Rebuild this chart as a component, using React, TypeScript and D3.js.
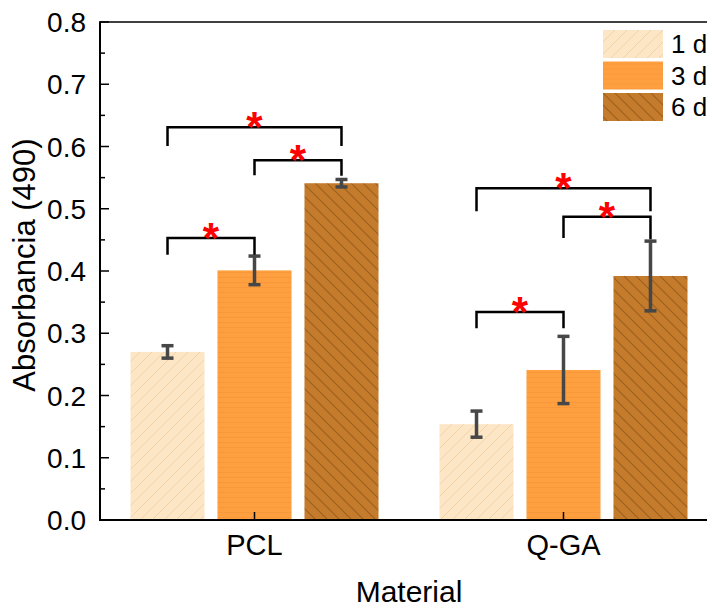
import React from 'react';
import * as d3 from 'd3';

const categories = ['PCL', 'Q-GA'];
const seriesNames = ['1 d', '3 d', '6 d'];
const pclMeans = [0.270, 0.401, 0.541];
const pclErrors = [0.010, 0.023, 0.006];
const qgaMeans = [0.154, 0.241, 0.392];
const qgaErrors = [0.021, 0.054, 0.056];
const yTicks = [0, 0.1, 0.2, 0.3, 0.4, 0.5, 0.6, 0.7, 0.8];
const yMinorTicks = [0.05, 0.15, 0.25, 0.35, 0.45, 0.55, 0.65, 0.75];
// significance brackets: category, from series, to series, top value, left leg end, right leg end
const bracketCats = ['PCL', 'PCL', 'PCL', 'Q-GA', 'Q-GA', 'Q-GA'];
const bracketFrom = [0, 1, 0, 0, 1, 0];
const bracketTo = [2, 2, 1, 2, 2, 1];
const bracketTop = [0.631, 0.578, 0.453, 0.533, 0.487, 0.334];
const bracketLegA = [0.601, 0.554, 0.426, 0.496, 0.453, 0.308];
const bracketLegB = [0.601, 0.553, 0.426, 0.496, 0.451, 0.308];

const W = 707;
const H = 607;
const M = { left: 100, top: 22, bottom: 520, right: 718 };
const FONT = 'Arimo, "Liberation Sans", Arial, Helvetica, sans-serif';

export default function App() {
  const x0 = d3.scaleBand<string>().domain(categories).range([M.left, M.right]).padding(0);
  const x1 = d3.scaleBand<string>().domain(seriesNames).range([-124, 124]).paddingInner(0.149).paddingOuter(0);
  const y = d3.scaleLinear().domain([0, 0.8]).range([M.bottom, M.top]);

  const rows = categories.map((c, ci) => ({
    cat: c,
    means: ci === 0 ? pclMeans : qgaMeans,
    errs: ci === 0 ? pclErrors : qgaErrors,
  }));

  const fills = ['url(#p1)', 'url(#p2)', 'url(#p3)'];
  const cx = (cat: string) => (x0(cat) as number) + x0.bandwidth() / 2;
  const barCenter = (cat: string, si: number) =>
    cx(cat) + (x1(seriesNames[si]) as number) + x1.bandwidth() / 2;

  return (
    <svg width={W} height={H} style={{ position: 'absolute', left: 0, top: 0, background: '#fff' }} fontFamily={FONT}>
      <defs>
        <pattern id="p1" patternUnits="userSpaceOnUse" width={12} height={12}>
          <rect width={12} height={12} fill="#FDE6C6" />
          <path d="M0,12 L12,0 M-3,3 L3,-3 M9,15 L15,9" stroke="#F3D2A8" strokeWidth={1} />
        </pattern>
        <pattern id="p2" patternUnits="userSpaceOnUse" width={12} height={5}>
          <rect width={12} height={5} fill="#FFA040" />
          <path d="M0,2.5 L12,2.5" stroke="#F7963A" strokeWidth={0.8} />
        </pattern>
        <pattern id="p3" patternUnits="userSpaceOnUse" width={12} height={12}>
          <rect width={12} height={12} fill="#C47B2C" />
          <path d="M0,0 L12,12 M-3,9 L3,15 M9,-3 L15,3" stroke="#8C5418" strokeWidth={1.2} strokeOpacity={0.7} />
        </pattern>
      </defs>

      {/* bars */}
      {rows.map((r) =>
        r.means.map((v, si) => (
          <rect
            key={r.cat + si}
            x={cx(r.cat) + (x1(seriesNames[si]) as number)}
            y={y(v)}
            width={x1.bandwidth()}
            height={y(0) - y(v)}
            fill={fills[si]}
          />
        ))
      )}

      {/* error bars */}
      {rows.map((r) =>
        r.means.map((v, si) => {
          const bx = barCenter(r.cat, si);
          const hi = y(v + r.errs[si]);
          const lo = y(v - r.errs[si]);
          return (
            <g key={'e' + r.cat + si} stroke="#474747" strokeWidth={3.5}>
              <line x1={bx} x2={bx} y1={hi} y2={lo} />
              <line x1={bx - 6} x2={bx + 6} y1={hi} y2={hi} />
              <line x1={bx - 6} x2={bx + 6} y1={lo} y2={lo} />
            </g>
          );
        })
      )}

      {/* significance brackets */}
      {bracketCats.map((c, i) => {
        const xa = barCenter(c, bracketFrom[i]);
        const xb = barCenter(c, bracketTo[i]);
        const yt = y(bracketTop[i]);
        return (
          <g key={'b' + i}>
            <path
              d={`M${xa},${y(bracketLegA[i])} L${xa},${yt} L${xb},${yt} L${xb},${y(bracketLegB[i])}`}
              fill="none"
              stroke="#000"
              strokeWidth={2.5}
            />
            <text x={(xa + xb) / 2} y={yt + 14} textAnchor="middle" fontSize={42} fontWeight="bold" fill="#FF0000">
              *
            </text>
          </g>
        );
      })}

      {/* axes frame */}
      <line x1={M.left} x2={M.right + 2} y1={M.top} y2={M.top} stroke="#000" strokeWidth={1.5} />
      <line x1={M.left} x2={M.right + 2} y1={M.bottom} y2={M.bottom} stroke="#000" strokeWidth={2} />
      <line x1={M.left} x2={M.left} y1={M.top - 0.75} y2={M.bottom + 1} stroke="#000" strokeWidth={2} />

      {/* y ticks */}
      {yTicks.map((t) => (
        <g key={'yt' + t}>
          <line x1={M.left} x2={M.left + 9} y1={y(t)} y2={y(t)} stroke="#000" strokeWidth={1.5} />
          <text x={86} y={y(t)} dy="0.36em" textAnchor="end" fontSize={28} fill="#000">
            {t.toFixed(1)}
          </text>
        </g>
      ))}
      {yMinorTicks.map((t) => (
        <line key={'ym' + t} x1={M.left} x2={M.left + 5} y1={y(t)} y2={y(t)} stroke="#000" strokeWidth={1.5} />
      ))}

      {/* x ticks */}
      {categories.map((c) => (
        <g key={'xt' + c}>
          <line x1={cx(c)} x2={cx(c)} y1={M.bottom} y2={M.bottom - 8} stroke="#000" strokeWidth={1.5} />
          <text x={cx(c)} y={555} textAnchor="middle" fontSize={29} fill="#000">
            {c}
          </text>
        </g>
      ))}

      {/* axis titles */}
      <text x={409} y={602} textAnchor="middle" fontSize={30} fill="#000">
        Material
      </text>
      <text
        transform={`translate(35,265) rotate(-90)`}
        textAnchor="middle"
        fontSize={31}
        fill="#000"
      >
        Absorbancia (490)
      </text>

      {/* legend */}
      {seriesNames.map((s, i) => (
        <g key={'lg' + s} transform={`translate(603,${30 + i * 31.5})`}>
          <rect width={60} height={28} fill={fills[i]} />
          <text x={68} y={23} fontSize={26} fill="#000">
            {s}
          </text>
        </g>
      ))}
    </svg>
  );
}
